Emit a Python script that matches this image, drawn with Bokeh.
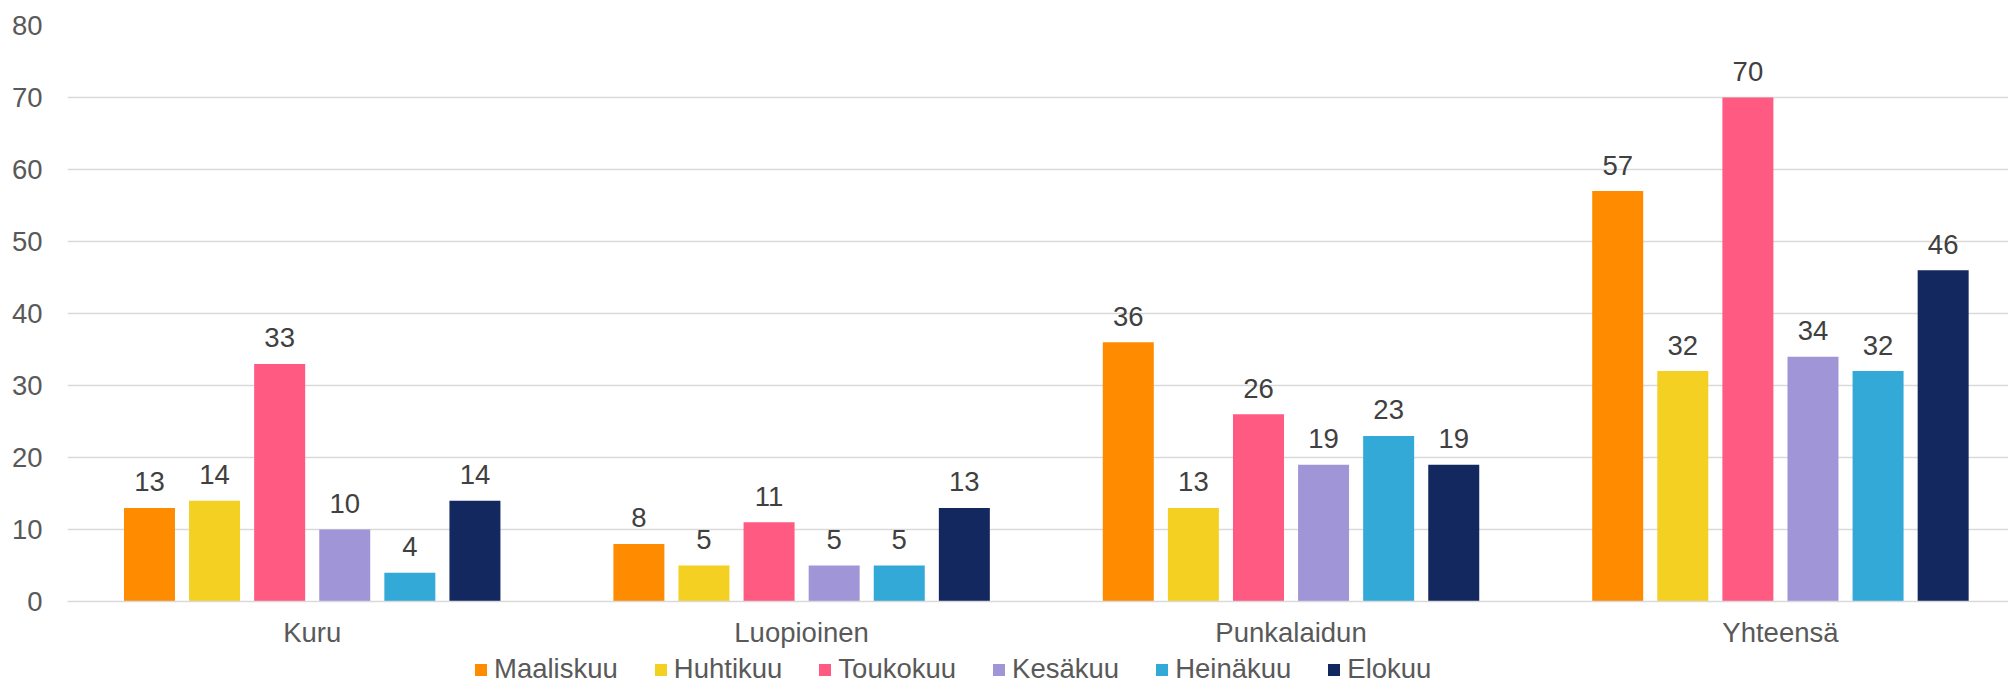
from bokeh.plotting import figure
from bokeh.layouts import column
from bokeh.models import (ColumnDataSource, Range1d, FixedTicker, Legend, LegendItem)
from bokeh.core.properties import value
from bokeh.embed import file_html
from bokeh.resources import INLINE

categories = ["Kuru", "Luopioinen", "Punkalaidun", "Yhteensä"]
months = ["Maaliskuu", "Huhtikuu", "Toukokuu", "Kesäkuu", "Heinäkuu", "Elokuu"]
maaliskuu = [13, 8, 36, 57]
huhtikuu = [14, 5, 13, 32]
toukokuu = [33, 11, 26, 70]
kesakuu = [10, 5, 19, 34]
heinakuu = [4, 5, 23, 32]
elokuu = [14, 13, 19, 46]
series = [maaliskuu, huhtikuu, toukokuu, kesakuu, heinakuu, elokuu]
colors = ["#FF8B00", "#F4D022", "#FF5A81", "#A095D6", "#33A9D8", "#13285F"]
y_ticks = [0, 10, 20, 30, 40, 50, 60, 70, 80]

FONT = "Liberation Sans"
FS = "27.5px"
pitch = 0.133
bar_w = 0.1042

p = figure(width=2008, height=651, output_backend="svg", toolbar_location=None,
           x_range=Range1d(-0.5, 3.466), y_range=Range1d(0, 80),
           min_border_left=67, min_border_right=0, min_border_top=25,
           min_border_bottom=50)
p.outline_line_color = None

# legend strip below the chart (shares the bar data, value range kept out of view)
lg = figure(width=2008, height=33, output_backend="svg", toolbar_location=None,
            x_range=p.x_range, y_range=Range1d(1000, 1001),
            x_axis_location=None, y_axis_location=None,
            min_border_left=0, min_border_right=0, min_border_top=0, min_border_bottom=0)
lg.outline_line_color = None
lg.grid.visible = False

items = []
for j, (vals, name, col) in enumerate(zip(series, months, colors)):
    xs = [i + (j - 2.5) * pitch for i in range(len(categories))]
    src = ColumnDataSource(dict(x=xs, top=vals, lab=[str(v) for v in vals]))
    p.vbar(x="x", top="top", width=bar_w, source=src, fill_color=col, line_color=None)
    p.text(x="x", y="top", text="lab", source=src, text_align="center",
           text_baseline="alphabetic", y_offset=-26, text_color="#404040",
           text_font=value(FONT), text_font_size=FS)
    r = lg.vbar(x="x", top="top", width=bar_w, source=src, fill_color=col, line_color=None)
    items.append(LegendItem(label=name, renderers=[r]))

p.xaxis.ticker = FixedTicker(ticks=list(range(len(categories))))
p.xaxis.major_label_overrides = {i: c for i, c in enumerate(categories)}
p.xaxis.major_tick_line_color = None
p.xaxis.major_tick_out = 0
p.xaxis.major_tick_in = 0
p.xaxis.minor_tick_line_color = None
p.xaxis.axis_line_color = "#D9D9D9"
p.xaxis.axis_line_width = 1.5
p.xaxis.major_label_standoff = 15
p.xaxis.major_label_text_font = FONT
p.xaxis.major_label_text_font_size = FS
p.xaxis.major_label_text_color = "#595959"

p.yaxis.ticker = FixedTicker(ticks=y_ticks)
p.yaxis.axis_line_color = None
p.yaxis.major_tick_line_color = None
p.yaxis.major_tick_out = 0
p.yaxis.major_tick_in = 0
p.yaxis.minor_tick_line_color = None
p.yaxis.major_label_standoff = 25
p.yaxis.major_label_text_font = FONT
p.yaxis.major_label_text_font_size = FS
p.yaxis.major_label_text_color = "#595959"

p.xgrid.grid_line_color = None
p.ygrid.grid_line_color = "#D9D9D9"
p.ygrid.grid_line_width = 1.5

legend = Legend(items=items, orientation="horizontal", location=(406, -1),
                glyph_width=15, glyph_height=15, label_standoff=6, spacing=35,
                padding=0, margin=0, border_line_color=None, background_fill_alpha=0,
                label_text_font=FONT, label_text_font_size=FS, label_text_color="#595959")
lg.add_layout(legend, "center")

layout = column(p, lg, spacing=0)
open("out.html", "w").write(file_html(layout, INLINE))
